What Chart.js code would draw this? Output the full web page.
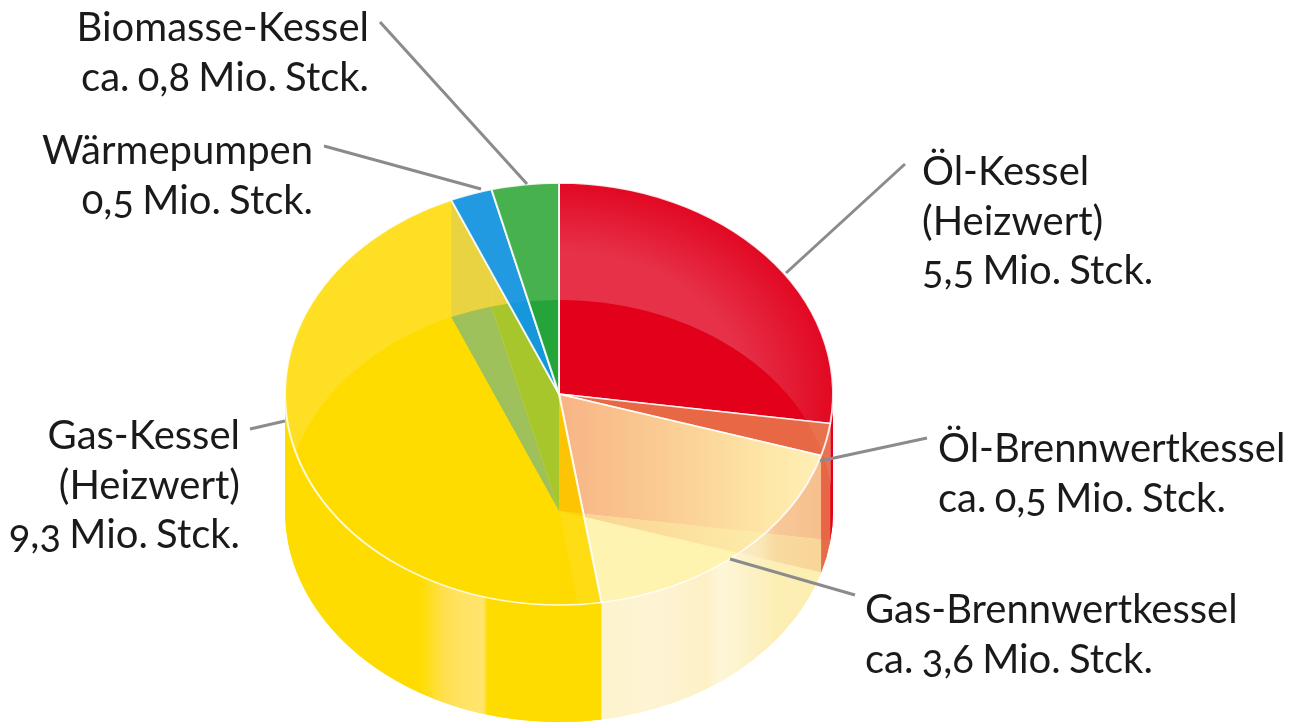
<!DOCTYPE html>
<html lang="de">
<head>
<meta charset="utf-8">
<title>Heizungsbestand</title>
<script src="https://cdn.jsdelivr.net/npm/chart.js@4"></script>
<style>
html,body{margin:0;padding:0;background:#fff;}
#wrap{position:relative;width:1291px;height:725px;overflow:hidden;}
#chart{position:absolute;left:0;top:0;}
.lbl{position:absolute;font-family:Lato,"Noto Sans",sans-serif;font-size:40px;word-spacing:-2px;line-height:49.5px;color:#1a1a1a;white-space:nowrap;font-variant-numeric:oldstyle-nums;font-feature-settings:"onum" 1;}
</style>
</head>
<body>
<div id="wrap"><canvas id="chart" width="1291" height="725"></canvas></div>
<script>
const categories = ["Öl-Kessel (Heizwert)","Öl-Brennwertkessel","Gas-Brennwertkessel","Gas-Kessel (Heizwert)","Wärmepumpen","Biomasse-Kessel"];
const values = [5.5,0.5,3.6,9.3,0.5,0.8];
const labelLines = [
  ["Öl-Kessel","(Heizwert)","5,5 Mio. Stck."],
  ["Öl-Brennwertkessel","ca. 0,5 Mio. Stck."],
  ["Gas-Brennwertkessel","ca. 3,6 Mio. Stck."],
  ["Gas-Kessel","(Heizwert)","9,3 Mio. Stck."],
  ["Wärmepumpen","0,5 Mio. Stck."],
  ["Biomasse-Kessel","ca. 0,8 Mio. Stck."]
];
const labelBoxes = [
  {left:922,top:146},{left:938,top:423},{left:865,top:584},
  {right:1051,top:410},{right:978,top:125},{right:922,top:2}
];
const leaders = [
  [786,273,905,164],[820,461,927,438],[730,559,855,595],
  [285,421,250,429],[481,189,324,146],[527,184,380,22]
];
const K = 0.77, DEPTH = 117, R = 274;

const canvas = document.getElementById('chart');
const g = canvas.getContext('2d');
function hGrad(stops, x0, x1){
  const gr = g.createLinearGradient(x0,0,x1,0);
  stops.forEach(s=>gr.addColorStop(s[0],s[1]));
  return gr;
}
const topColors = [
  'rgba(226,0,26,0.72)',
  'rgba(232,108,72,0.96)',
  hGrad([[0,'rgba(255,243,170,0.74)'],[0.4,'rgba(255,243,170,0.84)'],[0.8,'rgba(255,243,175,0.95)'],[1,'rgba(255,243,185,0.98)']],560,820),
  hGrad([[0,'rgba(255,220,0,0.6)'],[0.999,'rgba(255,220,0,0.6)'],[1,'rgba(255,218,0,0.9)']],285,559),
  'rgba(22,150,225,0.95)',
  'rgba(38,165,45,0.82)'
];
const floorColors = ['#e2001a','#e86f50','#fdf2cb','#ffdc00','#0e96e0','#24a56e'];

function squash(ctx,cx,cy,dy){
  ctx.translate(cx,cy+dy);ctx.scale(1,K);ctx.translate(-cx,-cy);
}
function wedge(ctx,a){
  ctx.beginPath();ctx.moveTo(a.x,a.y);ctx.arc(a.x,a.y,a.outerRadius,a.startAngle,a.endAngle);ctx.closePath();
}
function wall(ctx,a,s,e){
  ctx.beginPath();
  ctx.ellipse(a.x,a.y,a.outerRadius,a.outerRadius*K,0,s,e);
  ctx.ellipse(a.x,a.y+DEPTH,a.outerRadius,a.outerRadius*K,0,e,s,true);
  ctx.closePath();
}
const cylinder = {
  id:'cylinder',
  beforeDatasetsDraw(chart){
    const ctx = chart.ctx, arcs = chart.getDatasetMeta(0).data, c = arcs[0], PI = Math.PI;
    // crescent seen through the top face
    ctx.save();squash(ctx,c.x,c.y,0);
    arcs.forEach((a,i)=>{
      wedge(ctx,a);
      if(i===0){
        const rg=ctx.createRadialGradient(a.x,a.y,0,a.x,a.y,R);
        rg.addColorStop(0,'rgb(240,175,190)');rg.addColorStop(0.68,'rgb(240,175,190)');rg.addColorStop(1,'rgb(226,30,55)');
        ctx.fillStyle=rg;
      } else if(i===3){ctx.fillStyle='#ffe45a';}
      else ctx.fillStyle='#dfe3da';
      ctx.fill();
    });
    ctx.restore();
    // back walls of the two small slices
    [4,5].forEach(i=>{
      const a=arcs[i];
      wall(ctx,a,a.startAngle,a.endAngle);
      ctx.fillStyle='#c8c6a0';ctx.fill();
    });
    // redraw their top area base
    ctx.save();squash(ctx,c.x,c.y,0);
    [4,5].forEach(i=>{wedge(ctx,arcs[i]);ctx.fillStyle='#dde6dc';ctx.fill();});
    ctx.restore();
    // floor
    ctx.save();squash(ctx,c.x,c.y,DEPTH);
    arcs.forEach((a,i)=>{wedge(ctx,a);ctx.fillStyle=floorColors[i];ctx.fill();});
    ctx.restore();
    // front walls
    const wallStyle = [
      'rgb(226,0,26)',
      'rgba(232,108,72,0.95)',
      hGrad([[0,'rgba(254,243,205,0.95)'],[0.3,'rgba(254,244,212,0.95)'],[0.5,'rgba(253,240,196,0.95)'],[0.56,'rgba(254,246,218,0.95)'],[0.74,'rgba(252,240,190,0.93)'],[0.8,'rgba(252,238,175,0.84)'],[1,'rgba(252,238,170,0.8)']],590,822),
      hGrad([[0,'#ffdc00'],[0.44,'#ffdc00'],[0.52,'#ffe050'],[0.585,'#ffe365'],[0.645,'#ffe56e'],[0.66,'#ffdc00'],[1,'#ffdc00']],285,592)
    ];
    [0,1,2,3].forEach(i=>{
      const a=arcs[i];
      const s=Math.max(a.startAngle,0), e=Math.min(a.endAngle,PI);
      if(e<=s) return;
      wall(ctx,a,s,e);ctx.fillStyle=wallStyle[i];ctx.fill();
    });
    // everything the library draws now is squashed into the ellipse of the top face
    ctx.save();squash(ctx,c.x,c.y,0);
  },
  afterDatasetsDraw(chart){
    const ctx = chart.ctx;
    ctx.restore();
    ctx.strokeStyle='#8b8b8b';ctx.lineWidth=3;ctx.lineCap='butt';
    leaders.forEach(l=>{ctx.beginPath();ctx.moveTo(l[0],l[1]);ctx.lineTo(l[2],l[3]);ctx.stroke();});
  }
};
new Chart(canvas,{
  type:'pie',
  data:{labels:categories,datasets:[{data:values,backgroundColor:topColors,borderColor:'rgba(255,255,255,0.85)',borderWidth:2}]},
  options:{
    responsive:false,animation:false,radius:R,
    layout:{padding:{top:63,right:173}},
    plugins:{legend:{display:false},tooltip:{enabled:false}},
    events:[]
  },
  plugins:[cylinder]
});
const wrap=document.getElementById('wrap');
labelLines.forEach((lines,i)=>{
  const d=document.createElement('div');d.className='lbl';
  const b=labelBoxes[i];
  d.style.top=b.top+'px';
  if(b.left!==undefined){d.style.left=b.left+'px';d.style.textAlign='left';}
  else{d.style.right=b.right+'px';d.style.textAlign='right';}
  d.innerHTML=lines.join('<br>');
  wrap.appendChild(d);
});
</script>
</body>
</html>
